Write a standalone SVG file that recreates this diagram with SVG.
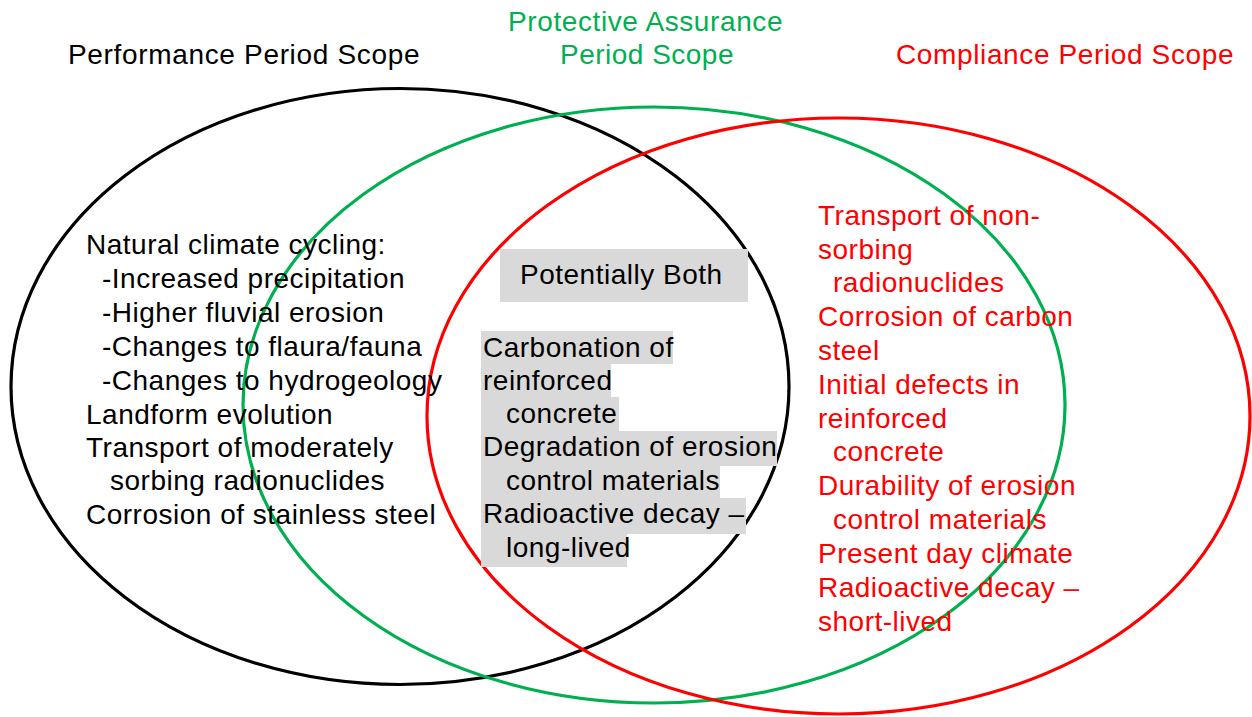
<svg xmlns="http://www.w3.org/2000/svg" width="1252" height="717" viewBox="0 0 1252 717">
  <style>
    text { font-family: "Liberation Sans", Arial, sans-serif; font-size: 28px; letter-spacing: 0.5px; }
    .blk { fill: #000000; }
    .grn { fill: #00B050; }
    .red { fill: #FF0000; }
    .ring { fill: none; stroke-width: 3.2; }
    .hl { fill: #D9D9D9; }
  </style>
  <rect width="1252" height="717" fill="#FFFFFF"/>

  <!-- scope outlines -->
  <g id="connectors">
    <ellipse id="performance-ring" class="ring" cx="400" cy="386.5" rx="389" ry="298" stroke="#000000"/>
    <ellipse id="assurance-ring" class="ring" cx="654" cy="405" rx="411" ry="298" stroke="#00B050"/>
    <ellipse id="compliance-ring" class="ring" cx="838.5" cy="416" rx="411.5" ry="298" stroke="#FF0000"/>
  </g>

  <!-- scope titles -->
  <g id="title-performance">
    <text class="blk" x="68" y="64" textLength="352">Performance Period Scope</text>
  </g>
  <g id="title-assurance">
    <text class="grn" x="508" y="31" textLength="275">Protective Assurance</text>
    <text class="grn" x="560" y="64" textLength="174">Period Scope</text>
  </g>
  <g id="title-compliance">
    <text class="red" x="896" y="64" textLength="338">Compliance Period Scope</text>
  </g>

  <!-- performance period items -->
  <g id="performance-items" class="blk">
    <text x="86" y="254">Natural climate cycling:</text>
    <text x="102" y="288">-Increased precipitation</text>
    <text x="102" y="322">-Higher fluvial erosion</text>
    <text x="102" y="356">-Changes to flaura/fauna</text>
    <text x="102" y="390">-Changes to hydrogeology</text>
    <text x="86" y="424">Landform evolution</text>
    <text x="86" y="457">Transport of moderately</text>
    <text x="110" y="490">sorbing radionuclides</text>
    <text x="86" y="524">Corrosion of stainless steel</text>
  </g>

  <!-- shared items -->
  <g id="potentially-both">
    <rect class="hl" x="500" y="249" width="248" height="53"/>
    <text class="blk" x="520" y="284">Potentially Both</text>
  </g>
  <g id="shared-items">
    <rect class="hl" x="481" y="331" width="192" height="33"/>
    <rect class="hl" x="481" y="363" width="130" height="35"/>
    <rect class="hl" x="481" y="397" width="138" height="35"/>
    <rect class="hl" x="481" y="431" width="296" height="35"/>
    <rect class="hl" x="481" y="465" width="239" height="34"/>
    <rect class="hl" x="481" y="498" width="265" height="36"/>
    <rect class="hl" x="481" y="533" width="146" height="34"/>
    <text class="blk" x="483" y="357">Carbonation of</text>
    <text class="blk" x="483" y="390">reinforced</text>
    <text class="blk" x="506" y="423">concrete</text>
    <text class="blk" x="483" y="456">Degradation of erosion</text>
    <text class="blk" x="506" y="490">control materials</text>
    <text class="blk" x="483" y="523">Radioactive decay –</text>
    <text class="blk" x="506" y="557">long-lived</text>
  </g>

  <!-- compliance period items -->
  <g id="compliance-items" class="red">
    <text x="818" y="225">Transport of non-</text>
    <text x="818" y="259">sorbing</text>
    <text x="833" y="292">radionuclides</text>
    <text x="818" y="326">Corrosion of carbon</text>
    <text x="818" y="360">steel</text>
    <text x="818" y="394">Initial defects in</text>
    <text x="818" y="428">reinforced</text>
    <text x="833" y="461">concrete</text>
    <text x="818" y="495">Durability of erosion</text>
    <text x="833" y="529">control materials</text>
    <text x="818" y="563">Present day climate</text>
    <text x="818" y="597">Radioactive decay –</text>
    <text x="818" y="631">short-lived</text>
  </g>
</svg>
